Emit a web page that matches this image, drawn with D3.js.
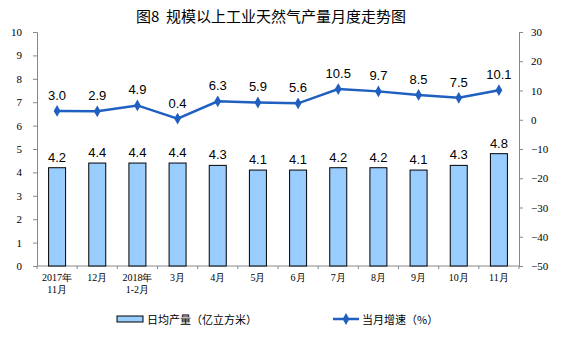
<!DOCTYPE html>
<html><head><meta charset="utf-8">
<script src="https://cdn.jsdelivr.net/npm/d3@7"></script>
<style>body{margin:0;background:#fff}svg{display:block}</style>
</head><body>
<script>
const categories = [["2017年","11月"],["12月"],["2018年","1-2月"],["3月"],["4月"],["5月"],["6月"],["7月"],["8月"],["9月"],["10月"],["11月"]];
const dailyOutput = [4.2,4.4,4.4,4.4,4.3,4.1,4.1,4.2,4.2,4.1,4.3,4.8];
const growth = [3.0,2.9,4.9,0.4,6.3,5.9,5.6,10.5,9.7,8.5,7.5,10.1];
const leftTicks = [0,1,2,3,4,5,6,7,8,9,10];
const rightTicks = [30,20,10,0,-10,-20,-30,-40,-50];
const title = "图8\u00a0\u00a0规模以上工业天然气产量月度走势图";
const legendNames = ["日均产量（亿立方米）","当月增速（%）"];

const W=561,H=339, L=37, R=519, T=32, B=266;
const svg=d3.select("body").append("svg").attr("width",W).attr("height",H);
const x=d3.scaleBand().domain(d3.range(categories.length)).range([L,R]);
const yL=d3.scaleLinear().domain([0,10]).range([B,T]);
const yR=d3.scaleLinear().domain([-50,30]).range([B,T]);
const serif="'Liberation Serif','Times New Roman',serif";
const sans="'Liberation Sans',Arial,'Noto Sans CJK SC',sans-serif";
const cjk="'Noto Sans CJK SC',sans-serif";

svg.append("text").attr("x",271).attr("y",22).attr("text-anchor","middle")
  .attr("font-family",cjk).attr("font-size",15).attr("font-weight","normal").attr("fill","#000").text(title);

// left axis
const axL=svg.append("g").attr("transform",`translate(${L},0)`)
  .call(d3.axisLeft(yL).tickValues(leftTicks).tickSize(4).tickFormat(d3.format("d")));
axL.select(".domain").attr("stroke","#888");
axL.selectAll(".tick line").attr("stroke","#888");
axL.selectAll("text").attr("font-family",serif).attr("font-size",11).attr("fill","#000").attr("x",-15).attr("text-anchor","end");

const axR=svg.append("g").attr("transform",`translate(${R},0)`)
  .call(d3.axisRight(yR).tickValues(rightTicks).tickSize(4).tickFormat(d3.format("d")));
axR.select(".domain").attr("stroke","#888");
axR.selectAll(".tick line").attr("stroke","#888");
axR.selectAll("text").attr("font-family",serif).attr("font-size",11).attr("fill","#000").attr("x",12);

// bottom axis
svg.append("line").attr("x1",L).attr("x2",R).attr("y1",B).attr("y2",B).attr("stroke","#888");
d3.range(categories.length+1).forEach(i=>{
  const xx=L+i*x.step();
  svg.append("line").attr("x1",xx).attr("x2",xx).attr("y1",B).attr("y2",B+3).attr("stroke","#888");
});

const bw=17;
svg.selectAll("rect.bar").data(dailyOutput).enter().append("rect")
  .attr("x",(d,i)=>x(i)+x.bandwidth()/2-bw/2).attr("width",bw)
  .attr("y",d=>yL(d)).attr("height",d=>B-yL(d))
  .attr("fill","#99ccff").attr("stroke","#000").attr("stroke-width",1);
svg.selectAll("text.bl").data(dailyOutput).enter().append("text")
  .attr("x",(d,i)=>x(i)+x.bandwidth()/2).attr("y",d=>yL(d)-6)
  .attr("text-anchor","middle").attr("font-family",sans).attr("font-size",13).attr("fill","#000")
  .text(d=>d.toFixed(1));

const line=d3.line().x((d,i)=>x(i)+x.bandwidth()/2).y(d=>yR(d));
svg.append("path").datum(growth).attr("d",line).attr("fill","none").attr("stroke","#1f5fbf").attr("stroke-width",2.5);
const diamond=d3.symbol().type(d3.symbolDiamond).size(40);
svg.selectAll("path.pt").data(growth).enter().append("path")
  .attr("d",diamond).attr("transform",(d,i)=>`translate(${x(i)+x.bandwidth()/2},${yR(d)})`).attr("fill","#1f5fbf");
svg.selectAll("text.gl").data(growth).enter().append("text")
  .attr("x",(d,i)=>x(i)+x.bandwidth()/2).attr("y",d=>yR(d)-11)
  .attr("text-anchor","middle").attr("font-family",sans).attr("font-size",13).attr("fill","#000")
  .text(d=>d.toFixed(1));

// category labels
categories.forEach((c,i)=>{
  const t=svg.append("text").attr("x",x(i)+x.bandwidth()/2).attr("y",B+15).attr("text-anchor","middle")
    .attr("font-family",serif).attr("font-size",10).attr("fill","#000");
  c.forEach((s,j)=>t.append("tspan").attr("x",x(i)+x.bandwidth()/2).attr("dy",j?12:0).text(s));
});

// legend
svg.append("rect").attr("x",117).attr("y",316).attr("width",26).attr("height",6).attr("fill","#99ccff").attr("stroke","#000");
svg.append("text").attr("x",147).attr("y",324).attr("font-family",cjk).attr("font-size",11).attr("fill","#000").text(legendNames[0]);
svg.append("line").attr("x1",333).attr("x2",359).attr("y1",319).attr("y2",319).attr("stroke","#1f5fbf").attr("stroke-width",2.5);
svg.append("path").attr("d",diamond).attr("transform","translate(346,319)").attr("fill","#1f5fbf");
svg.append("text").attr("x",362).attr("y",324).attr("font-family",cjk).attr("font-size",11).attr("fill","#000").text(legendNames[1]);
</script>
</body></html>
